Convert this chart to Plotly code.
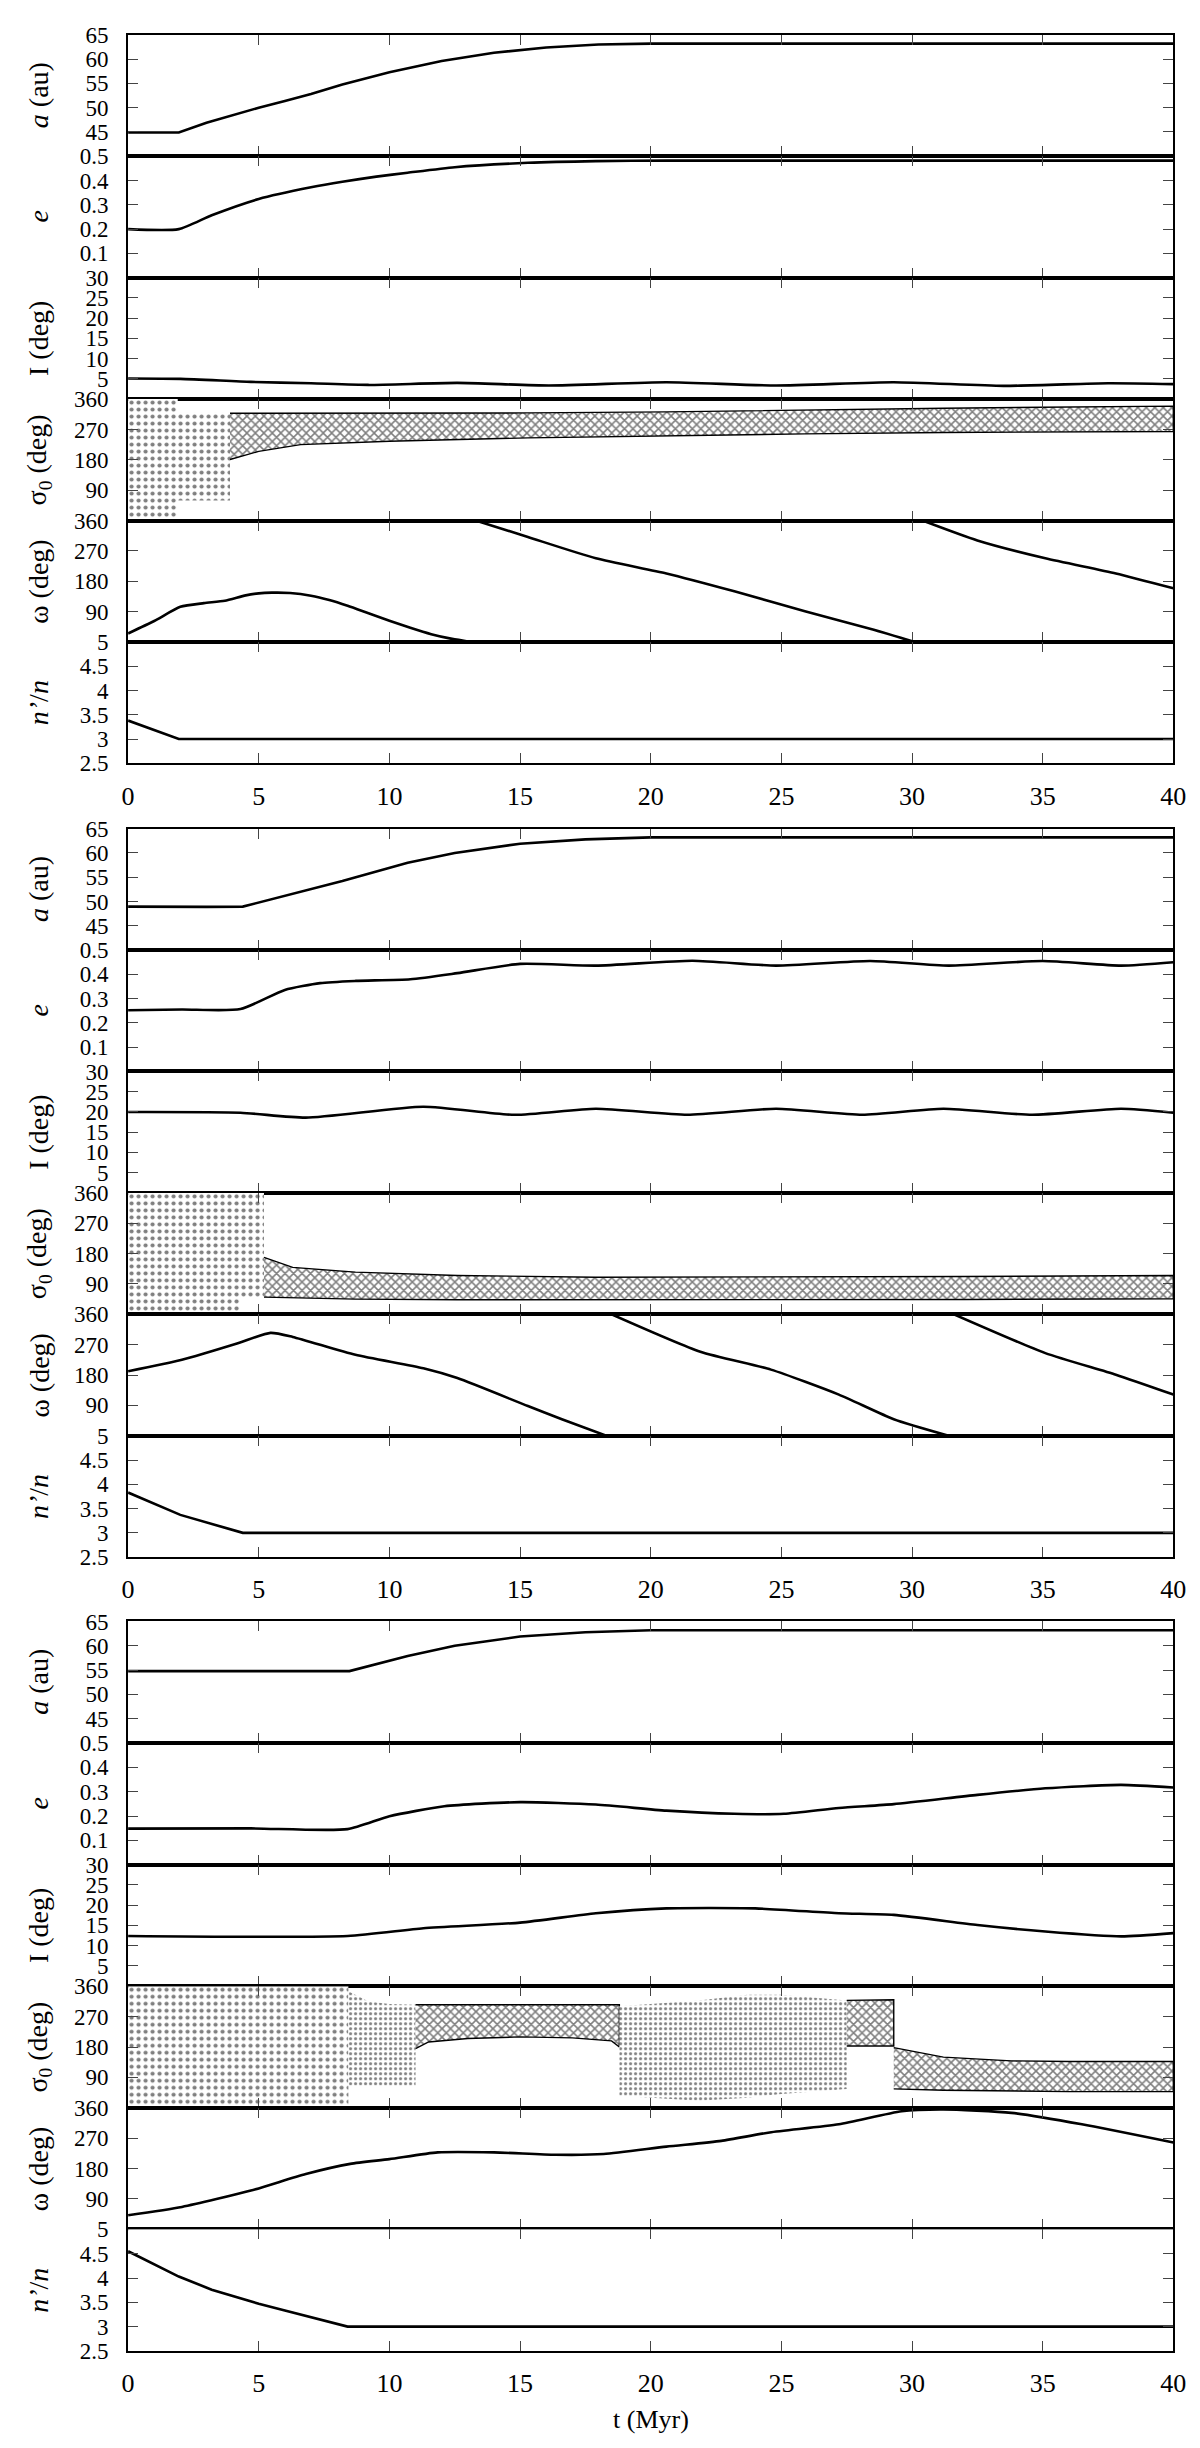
import plotly.graph_objects as go

# ---------------- data ----------------
# Group 1
g1_a_t = [0, 1.94, 3, 4, 5, 6, 7, 8.2, 10, 12, 14, 16, 18, 20, 25, 30, 35, 40]
g1_a = [44.9, 44.9, 46.9, 48.5, 50.0, 51.4, 52.8, 54.8, 57.3, 59.6, 61.3, 62.4, 63.0, 63.2, 63.2, 63.2, 63.2, 63.2]
g1_e_t = [0, 1.94, 3.2, 5, 7, 8.2, 9.5, 10.7, 12.5, 15.3, 17.9, 20.6, 25, 30, 35, 40]
g1_e = [0.2, 0.2, 0.257, 0.324, 0.372, 0.395, 0.416, 0.432, 0.455, 0.473, 0.48, 0.482, 0.482, 0.482, 0.482, 0.482]
g1_I_t = [0, 2, 4.7, 7, 9.2, 12.6, 16.1, 20.6, 24.8, 29.3, 33.5, 37.5, 40]
g1_I = [5.1, 5.0, 4.25, 3.9, 3.5, 4.0, 3.35, 4.17, 3.35, 4.17, 3.27, 3.9, 3.7]
g1_sig_chaos_t = [0, 1.9, 1.9, 3.9, 3.9, 1.9, 1.9, 0]
g1_sig_chaos = [0, 0, 59, 59, 320, 320, 360, 360]
g1_sig_band_t = [3.9, 5, 6.6, 10, 15.3, 20.6, 25.9, 31.2, 35, 40]
g1_sig_lo = [181, 205, 225, 235, 245, 251, 257, 261, 263, 264]
g1_sig_hi = [318, 318, 318, 318, 319, 322, 328, 333, 336, 339]
g1_w1_t = [0, 1, 2, 2.9, 3.7, 4.5, 5.0, 5.5, 6.2, 7.0, 7.7, 8.4, 9.2, 10, 10.8, 11.6, 12.4, 13.1]
g1_w1 = [25, 62, 104, 115, 122, 138, 144, 146, 145, 137, 124, 107, 85, 63, 42, 23, 9, 0]
g1_w2_t = [13.3, 15.3, 17.9, 20.6, 23.2, 25.9, 28.5, 30.1]
g1_w2 = [360, 311, 248, 203, 150, 91, 37, 0]
g1_w3_t = [30.4, 32.5, 35.1, 37.8, 40]
g1_w3 = [360, 301, 248, 203, 159]
g1_n_t = [0, 1.94, 40]
g1_n = [3.38, 3.0, 3.0]

# Group 2
g2_a_t = [0, 1, 2, 3, 4.39, 6, 8.2, 10.7, 12.5, 15, 17.5, 20, 25, 30, 35, 40]
g2_a = [48.95, 48.9, 48.85, 48.9, 48.95, 51.2, 54.2, 58.0, 60.0, 61.9, 62.8, 63.2, 63.2, 63.2, 63.2, 63.2]
g2_e_t = [0, 2.06, 4.3, 6.0, 7.35, 8.7, 10.8, 12.6, 15.0, 17.9, 21.6, 24.8, 28.4, 31.4, 35, 38, 40]
g2_e = [0.252, 0.255, 0.257, 0.336, 0.364, 0.373, 0.38, 0.405, 0.443, 0.436, 0.456, 0.436, 0.455, 0.436, 0.455, 0.436, 0.45]
g2_I_t = [0, 4.3, 6.8, 11.3, 14.8, 17.9, 21.4, 24.8, 28.1, 31.2, 34.6, 38, 40]
g2_I = [19.97, 19.8, 18.6, 21.3, 19.3, 20.8, 19.3, 20.8, 19.3, 20.8, 19.3, 20.8, 19.8]
g2_sig_chaos_t = [0, 4.3, 4.3, 5.2, 5.2, 0]
g2_sig_chaos = [0, 0, 51, 51, 360, 360]
g2_sig_band_t = [5.2, 6.3, 8.7, 12.6, 17.9, 25, 32, 40]
g2_sig_lo = [51, 48, 45, 43, 43, 43, 44, 46]
g2_sig_hi = [169, 139, 125, 115, 110, 110, 112, 115]
g2_w1_t = [0, 2.06, 4.2, 5.45, 6.3, 8.7, 11.3, 12.6, 15.3, 16.6, 18.3]
g2_w1 = [191, 225, 274, 305, 293, 240, 200, 171, 88, 49, 0]
g2_w2_t = [18.5, 21.9, 24.6, 27.2, 29.3, 31.4]
g2_w2 = [360, 249, 196, 122, 49, 0]
g2_w3_t = [31.6, 35.1, 37.8, 40]
g2_w3 = [360, 245, 181, 122]
g2_n_t = [0, 1, 2, 4.39, 40]
g2_n = [3.83, 3.6, 3.37, 3.0, 3.0]

# Group 3
g3_a_t = [0, 8.47, 10.7, 12.5, 15, 17.5, 20, 25, 30, 35, 40]
g3_a = [54.8, 54.8, 57.9, 60.0, 61.9, 62.8, 63.2, 63.2, 63.2, 63.2, 63.2]
g3_e_t = [0, 4.7, 8.4, 10, 12.1, 15, 17.9, 20.6, 23.2, 25.1, 27.2, 29.3, 32.5, 35.1, 38, 40]
g3_e = [0.148, 0.149, 0.146, 0.199, 0.24, 0.257, 0.247, 0.222, 0.209, 0.209, 0.233, 0.249, 0.287, 0.314, 0.328, 0.317]
g3_I_t = [0, 8.4, 11.3, 15, 17.9, 20.6, 24, 27.2, 29.3, 32.5, 35.1, 38, 40]
g3_I = [12.4, 12.4, 14.3, 15.7, 18.0, 19.2, 19.2, 18.0, 17.6, 15.1, 13.5, 12.3, 13.1]
g3_sig_chaos_t = [0, 8.43, 8.43, 0]
g3_sig_chaos = [0, 0, 360, 360]
g3_sig_dot1_t = [8.43, 9.2, 10, 11.0, 11.0, 8.43]
g3_sig_dot1 = [345, 315, 307, 305, 65, 65]
g3_sig_band1_t = [11.0, 11.5, 13, 15, 17, 18.5, 18.8]
g3_sig_band1_lo = [175, 195, 205, 210, 207, 198, 180]
g3_sig_band1_hi = [305, 305, 306, 306, 306, 305, 305]
g3_sig_dot2_t = [18.8, 21.85, 23.7, 25.0, 27.5]
g3_sig_dot2_lo = [36, 21, 30, 41, 56]
g3_sig_dot2_hi = [301, 318, 335, 335, 318]
g3_sig_band2_t = [27.5, 29.3]
g3_sig_band2_lo = [183, 183]
g3_sig_band2_hi = [318, 320]
g3_sig_band3_t = [29.3, 31.2, 33.8, 36, 40]
g3_sig_band3_lo = [56, 52, 49, 48, 48]
g3_sig_band3_hi = [178, 150, 139, 137, 137]
g3_w_t = [0, 2.06, 4.7, 6.8, 8.5, 10, 11.85, 14, 16.35, 18.2, 20.6, 22.7, 24.55, 27.2, 29.6, 31.2, 33.8, 36.5, 40]
g3_w = [42, 66.5, 115, 164, 194, 208, 228, 228, 221, 223, 245, 262, 287, 311, 350, 355, 345, 311, 257]
g3_n_t = [0, 1, 1.94, 3.2, 5, 6, 6.96, 7.8, 8.4, 40]
g3_n = [4.55, 4.28, 4.03, 3.76, 3.47, 3.33, 3.2, 3.08, 3.0, 3.0]

x_ticks = [0, 5, 10, 15, 20, 25, 30, 35, 40]
panel_titles = ["<i>a</i> (au)", "<i>e</i>", "I (deg)", "σ<sub>0</sub> (deg)", "ω (deg)", "<i>n’</i>/<i>n</i>"]
panel_ranges = [[40, 65], [0, 0.5], [0, 30], [0, 360], [0, 360], [2.5, 5]]
panel_ticks = [[45, 50, 55, 60, 65], [0.1, 0.2, 0.3, 0.4, 0.5], [5, 10, 15, 20, 25, 30],
               [90, 180, 270, 360], [90, 180, 270, 360], [2.5, 3, 3.5, 4, 4.5, 5]]
panel_ticktext = [["45", "50", "55", "60", "65"], ["0.1", "0.2", "0.3", "0.4", "0.5"],
                  ["5", "10", "15", "20", "25", "30"], ["90", "180", "270", "360"],
                  ["90", "180", "270", "360"], ["2.5", "3", "3.5", "4", "4.5", "5"]]

# ---------------- layout geometry ----------------
W, H = 1200, 2448
X0, X1 = 115, 1178
group_tops = [15, 817, 1618]
group_bots = [751, 1553, 2355]
FONT = "Liberation Serif, Times New Roman, Times, serif"

fig = go.Figure()


def ax(k):
    return "" if k == 1 else str(k)


def add_line(k, t, v, shape="linear"):
    fig.add_trace(go.Scatter(x=t, y=v, mode="lines",
                             line=dict(color="black", width=2.6, shape=shape, smoothing=0.6),
                             xaxis="x" + ax(k), yaxis="y" + ax(k),
                             showlegend=False, hoverinfo="skip"))


def add_poly(k, t, v, shape, size, solidity, outline=0):
    fig.add_trace(go.Scatter(x=t, y=v, mode="lines", fill="toself",
                             fillcolor="white",
                             fillpattern=dict(shape=shape, fgcolor="black", bgcolor="white",
                                              size=size, solidity=solidity),
                             line=dict(color="black", width=outline),
                             xaxis="x" + ax(k), yaxis="y" + ax(k),
                             showlegend=False, hoverinfo="skip"))


def add_band(k, t, lo, hi, shape, size, solidity, outline):
    add_poly(k, list(t) + list(t)[::-1], list(hi) + list(lo)[::-1], shape, size, solidity, outline)


DOT = dict(shape=".", size=7, solidity=0.28)
HATCH = dict(shape="x", size=6, solidity=0.45)

# group 1
add_line(1, g1_a_t, g1_a)
add_line(2, g1_e_t, g1_e, "spline")
add_line(3, g1_I_t, g1_I, "spline")
add_poly(4, g1_sig_chaos_t, g1_sig_chaos, DOT["shape"], DOT["size"], DOT["solidity"])
add_band(4, g1_sig_band_t, g1_sig_lo, g1_sig_hi, HATCH["shape"], HATCH["size"], HATCH["solidity"], 1.4)
add_line(5, g1_w1_t, g1_w1, "spline")
add_line(5, g1_w2_t, g1_w2, "spline")
add_line(5, g1_w3_t, g1_w3, "spline")
add_line(6, g1_n_t, g1_n)

# group 2
add_line(7, g2_a_t, g2_a)
add_line(8, g2_e_t, g2_e, "spline")
add_line(9, g2_I_t, g2_I, "spline")
add_poly(10, g2_sig_chaos_t, g2_sig_chaos, DOT["shape"], DOT["size"], DOT["solidity"])
add_band(10, g2_sig_band_t, g2_sig_lo, g2_sig_hi, HATCH["shape"], HATCH["size"], HATCH["solidity"], 1.4)
add_line(11, g2_w1_t, g2_w1, "spline")
add_line(11, g2_w2_t, g2_w2, "spline")
add_line(11, g2_w3_t, g2_w3, "spline")
add_line(12, g2_n_t, g2_n)

# group 3
add_line(13, g3_a_t, g3_a)
add_line(14, g3_e_t, g3_e, "spline")
add_line(15, g3_I_t, g3_I, "spline")
add_poly(16, g3_sig_chaos_t, g3_sig_chaos, DOT["shape"], DOT["size"], DOT["solidity"])
add_poly(16, g3_sig_dot1_t, g3_sig_dot1, DOT["shape"], 5, 0.3)
add_band(16, g3_sig_band1_t, g3_sig_band1_lo, g3_sig_band1_hi, HATCH["shape"], HATCH["size"], HATCH["solidity"], 1.4)
add_band(16, g3_sig_dot2_t, g3_sig_dot2_lo, g3_sig_dot2_hi, DOT["shape"], 5, 0.3, 0)
add_band(16, g3_sig_band2_t, g3_sig_band2_lo, g3_sig_band2_hi, HATCH["shape"], HATCH["size"], HATCH["solidity"], 1.4)
add_band(16, g3_sig_band3_t, g3_sig_band3_lo, g3_sig_band3_hi, HATCH["shape"], HATCH["size"], HATCH["solidity"], 1.4)
add_line(17, g3_w_t, g3_w, "spline")
add_line(18, g3_n_t, g3_n)

layout = dict(width=W, height=H, margin=dict(l=0, r=0, t=0, b=0),
              paper_bgcolor="white", plot_bgcolor="white",
              font=dict(family=FONT, color="black", size=23), showlegend=False)
annotations = []
for g in range(3):
    top, bot = group_tops[g], group_bots[g]
    ph = (bot - top) / 6.0
    for r in range(6):
        k = g * 6 + r + 1
        ptop = top + r * ph
        pbot = ptop + ph
        last = (r == 5)
        layout["xaxis" + ax(k)] = dict(
            domain=[X0 / W, X1 / W], range=[0, 40], anchor="y" + ax(k),
            tickvals=x_ticks, ticktext=[str(v) for v in x_ticks],
            showticklabels=last, ticks="inside", ticklen=10, tickwidth=1, tickcolor="#444",
            showline=True, linecolor="black", linewidth=2, mirror="ticks",
            showgrid=False, zeroline=False, tickfont=dict(size=26, family=FONT),
            ticklabelstandoff=8)
        layout["yaxis" + ax(k)] = dict(
            domain=[1 - pbot / H, 1 - ptop / H], range=panel_ranges[r], anchor="x" + ax(k),
            tickvals=panel_ticks[r], ticktext=panel_ticktext[r],
            ticks="inside", ticklen=10, tickwidth=1, tickcolor="#444",
            showline=True, linecolor="black", linewidth=2, mirror="ticks",
            showgrid=False, zeroline=False, tickfont=dict(size=23, family=FONT),
            ticklabelstandoff=13)
        annotations.append(dict(text=panel_titles[r], x=24 / W, y=1 - (ptop + pbot) / 2 / H,
                                xref="paper", yref="paper", xanchor="center", yanchor="middle",
                                textangle=-90, showarrow=False,
                                font=dict(size=28, family=FONT)))
annotations.append(dict(text="t (Myr)", x=(X0 + X1) / 2 / W, y=1 - 2424 / H,
                        xref="paper", yref="paper", xanchor="center", yanchor="middle",
                        showarrow=False, font=dict(size=26, family=FONT)))
layout["annotations"] = annotations
fig.update_layout(**layout)
fig.write_html("out.html")
